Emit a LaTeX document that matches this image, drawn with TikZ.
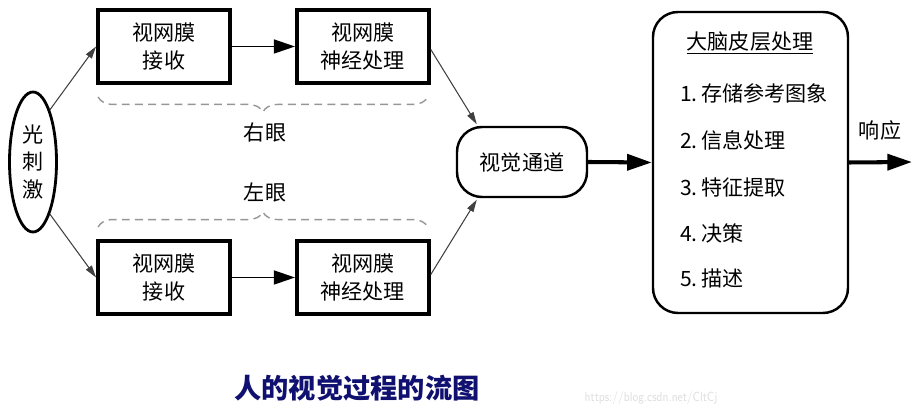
\documentclass[tikz,border=0pt]{standalone}
\usepackage{fontspec}
\setmainfont{Noto Sans CJK SC}
\usepackage{tikz}
\usetikzlibrary{shapes.geometric, arrows.meta, positioning, calc, decorations.pathreplacing}
\definecolor{capnavy}{RGB}{16, 16, 112}
\definecolor{bracegray}{RGB}{150, 150, 150}
\definecolor{wmgray}{RGB}{222, 222, 222}

\tikzset{
  retina/.style={draw, line width=2.2pt, minimum width=2.64cm, minimum height=1.46cm, align=center, inner sep=2pt, font=\fontsize{12}{16}\selectfont},
  thinarrow/.style={line width=0.6pt, draw=black!75, -{Triangle[length=7pt, width=4pt]}},
  bigarrow/.style={line width=2.3pt, -{Triangle[length=14pt, width=9pt]}},
  eyebrace/.style={draw=bracegray, line width=0.8pt, dash pattern=on 4.5pt off 3pt, decorate, decoration={brace, amplitude=0.3cm}},
  plain/.style={font=\fontsize{12}{16}\selectfont, inner sep=1pt}
}

\begin{document}
\begin{tikzpicture}
  \useasboundingbox (0, 0) rectangle (18.38, 8.32);

  % Light stimulus
  \node[draw, ellipse, line width=1.6pt, minimum width=0.94cm, minimum height=2.8cm, inner sep=0pt, align=center, font=\fontsize{12}{15.5}\selectfont] (light) at (0.66, 5.08) {光\\刺\\激};

  % Right eye
  \node[retina] (r1) at (3.28, 7.39) {视网膜\\接收};
  \node[retina, right=1.26cm of r1] (r2) {视网膜\\神经处理};

  % Left eye
  \node[retina] (l1) at (3.28, 2.77) {视网膜\\接收};
  \node[retina, right=1.26cm of l1] (l2) {视网膜\\神经处理};

  % Visual pathway
  \node[draw, line width=1.4pt, rounded corners=0.5cm, minimum width=2.6cm, minimum height=1.4cm, plain] (vis) at (10.44, 5.08) {视觉通道};

  % Cortex
  \node[draw, line width=1.4pt, rounded corners=0.5cm, minimum width=3.9cm, minimum height=6.02cm] (cortex) at (15.01, 5.07) {};
  \node[plain] (ctitle) at (15.0, 7.46) {\underline{大脑皮层处理}};
  \node[plain, anchor=west] (c1) at (13.56, 6.46) {1.\,存储参考图象};
  \node[plain, anchor=west] (c2) at (13.56, 5.52) {2.\,信息处理};
  \node[plain, anchor=west] (c3) at (13.56, 4.58) {3.\,特征提取};
  \node[plain, anchor=west] (c4) at (13.56, 3.66) {4.\,决策};
  \node[plain, anchor=west] (c5) at (13.56, 2.76) {5.\,描述};

  % Eye labels
  \node[plain] (reye) at (5.3, 5.66) {右眼};
  \node[plain] (leye) at (5.3, 4.48) {左眼};

  % Braces
  \coordinate (rb1) at ($(r1.south west)+(0.04,-0.24)$);
  \coordinate (rb2) at ($(r2.south east)+(-0.06,-0.24)$);
  \coordinate (lb1) at ($(l1.north west)+(0.04,0.24)$);
  \coordinate (lb2) at ($(l2.north east)+(-0.06,0.24)$);
  \draw[eyebrace, decoration={mirror}] (rb1) -- (rb2);
  \draw[eyebrace] (lb1) -- (lb2);

  % Connections
  \coordinate (visin1) at ($(vis.north west)+(0.42,0.03)$);
  \coordinate (visin2) at ($(vis.south west)+(0.42,-0.03)$);
  \coordinate (out) at (18.24, 5.08);
  \draw[thinarrow] (light.72) -- (r1.west);
  \draw[thinarrow] (light.-72) -- (l1.west);
  \draw[line width=0.8pt, -{Triangle[length=12pt, width=8pt]}] (r1) -- (r2);
  \draw[line width=0.8pt, -{Triangle[length=12pt, width=8pt]}] (l1) -- (l2);
  \draw[thinarrow] ($(r2.east)+(0,-0.06)$) -- (visin1);
  \draw[thinarrow] ($(l2.east)+(0,0.06)$) -- (visin2);
  \draw[bigarrow] (vis.east) -- (cortex.west);
  \draw[bigarrow] (cortex.east) -- (out);
  \node[plain] (resp) at (17.6, 5.72) {响应};

  % Caption
  \node[text=capnavy, font=\bfseries\fontsize{15.5}{18}\selectfont] (caption) at (7.14, 0.56) {人的视觉过程的流图};
  \node[text=wmgray, font=\sffamily\fontsize{7.5}{9}\selectfont, inner sep=0pt, xscale=0.82] (wm) at (13.02, 0.36) {https://blog.csdn.net/CltCj};
\end{tikzpicture}
\end{document}
